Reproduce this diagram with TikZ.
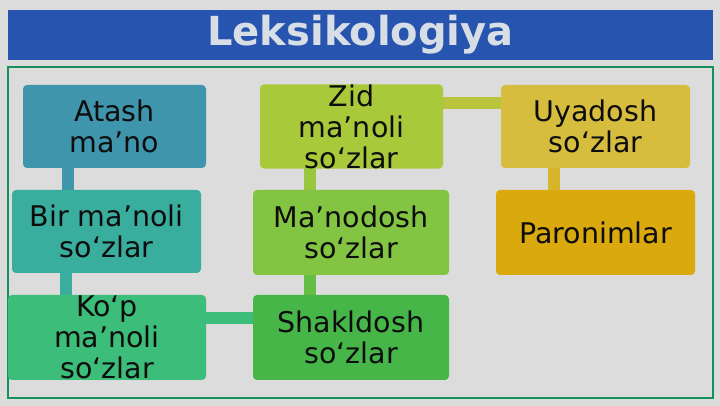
\documentclass[tikz,border=0pt]{standalone}
\usepackage{fontspec}
\setmainfont{DejaVu Sans}
\usetikzlibrary{positioning,backgrounds}

\definecolor{pagegray}{HTML}{DCDCDC}
\definecolor{titleblue}{HTML}{2654AF}
\definecolor{titletext}{HTML}{D8DEE6}
\definecolor{framegreen}{HTML}{13905B}
\definecolor{atashc}{HTML}{3E95AC}
\definecolor{birc}{HTML}{3AAE9E}
\definecolor{kopc}{HTML}{3DBD7A}
\definecolor{zidc}{HTML}{A8C93A}
\definecolor{manoc}{HTML}{84C443}
\definecolor{shaklc}{HTML}{47B649}
\definecolor{uyac}{HTML}{D6BD3E}
\definecolor{paroc}{HTML}{DAA90E}

\begin{document}
\begin{tikzpicture}[x=1pt, y=1pt,
    box/.style={rounded corners=4pt, align=center, inner sep=0pt,
      text=black!95, font=\fontsize{28.5}{31}\selectfont},
    bar/.style={line width=12pt}]
  \useasboundingbox (0,0) rectangle (720,406);

  \node[fill=titleblue, minimum width=705pt, minimum height=50pt, text=titletext,
    font=\fontsize{40}{42}\selectfont\bfseries] (title) at (360.5,371) {Leksikologiya};
  \draw[framegreen, line width=2.2pt] (8,8) rectangle (713,339);

  % left column
  \node[box, fill=atashc, minimum width=183pt, minimum height=83pt] (atash) at (114.5,279.5) {Atash\\ma’no};
  \node[box, fill=birc, minimum width=189pt, minimum height=83pt] (bir) at (106.5,174.5) {Bir ma’noli\\so‘zlar};
  \node[box, fill=kopc, minimum width=198pt, minimum height=85pt] (kop) at (107,68.5) {Ko‘p\\ma’noli\\so‘zlar};

  % middle column
  \node[box, fill=zidc, minimum width=183pt, minimum height=83pt] (zid) at (351.5,279.5) {Zid\\ma’noli\\so‘zlar};
  \node[box, fill=manoc, minimum width=196pt, minimum height=85pt] (mano) at (351,173.5) {Ma’nodosh\\so‘zlar};
  \node[box, fill=shaklc, minimum width=196pt, minimum height=85pt] (shakl) at (351,68.5) {Shakldosh\\so‘zlar};

  % right column
  \node[box, fill=uyac, minimum width=189pt, minimum height=83pt] (uya) at (595.5,279.5) {Uyadosh\\so‘zlar};
  \node[box, fill=paroc, minimum width=199pt, minimum height=85pt] (paro) at (595.5,173.5) {Paronimlar};

  \begin{scope}[on background layer]
    \fill[pagegray] (0,0) rectangle (720,406);
    \draw[bar, atashc!90!birc] ([xshift=-47pt]atash.center) -- ([xshift=-47pt]atash.center |- bir.center);
    \draw[bar, birc] ([xshift=-40.5pt]bir.center) -- ([xshift=-40.5pt]bir.center |- kop.center);
    \draw[bar, kopc] ([yshift=19.5pt]kop.center) -- ([yshift=19.5pt]kop.center -| shakl.center);
    \draw[bar, shaklc!50!manoc] ([xshift=-41pt]shakl.center) -- ([xshift=-41pt]shakl.center |- mano.center);
    \draw[bar, manoc!40!zidc] ([xshift=-41pt]mano.center) -- ([xshift=-41pt]mano.center |- zid.center);
    \draw[bar, zidc!60!uyac] ([yshift=23.5pt]zid.center) -- ([yshift=23.5pt]zid.center -| uya.center);
    \draw[bar, uyac!60!paroc] ([xshift=-41.5pt]uya.center) -- ([xshift=-41.5pt]uya.center |- paro.center);
  \end{scope}
\end{tikzpicture}
\end{document}
